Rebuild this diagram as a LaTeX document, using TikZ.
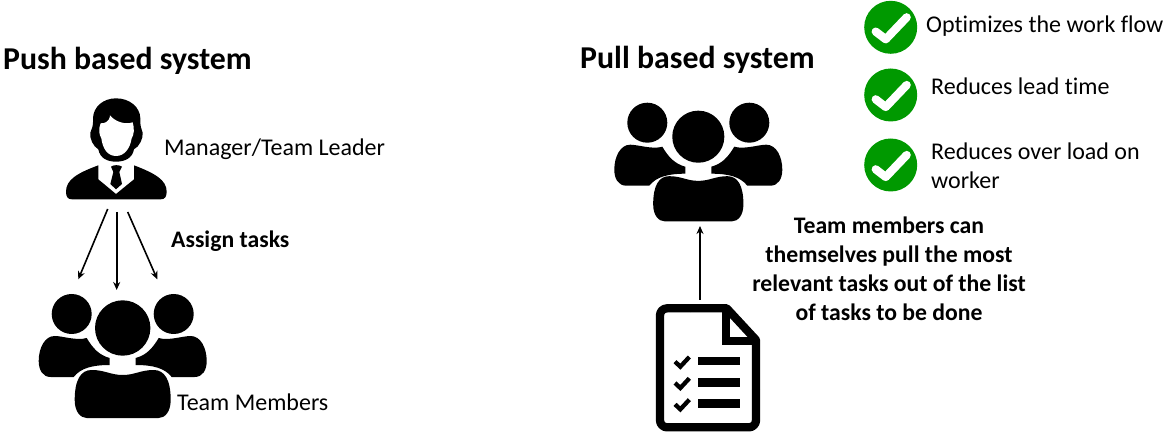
\documentclass[tikz,border=0pt]{standalone}
\usepackage{fontspec}
\setmainfont[Ligatures=NoCommon]{Carlito}
\usetikzlibrary{arrows.meta}

\tikzset{
  x=1pt, y=-1pt,
  label/.style={anchor=base west, inner sep=0pt, font=\fontsize{24}{29}\selectfont},
  heading/.style={anchor=base west, inner sep=0pt, font=\fontsize{31.8}{36}\selectfont\bfseries},
  boldtext/.style={inner sep=0pt, font=\fontsize{23.7}{29}\selectfont\bfseries},
  iconbox/.style={inner sep=0pt, outer sep=0pt},
  taskarrow/.style={-{Stealth[length=8pt,width=7pt]}, line width=1.6pt},
  pics/sidebody/.style={code={
    \fill (-51,-14) circle (20);
    \fill (-84,33) .. controls (-84,20) and (-78,8) .. (-68,8)
      .. controls (-60,8) and (-46,13) .. (-36,10)
      .. controls (-30,20) and (-24,27) .. (-13,30) -- (-13,37)
      .. controls (-30,37) and (-42,40) .. (-49,49) -- (-72,49)
      .. controls (-80,49) and (-84,42) .. (-84,33) -- cycle;
  }},
  pics/teamicon/.style={code={
    \fill (0,0) circle (27.7);
    \fill (-48,72) .. controls (-48,52) and (-42,42) .. (-31,42)
      .. controls (-18,42) and (-12,47) .. (0,47)
      .. controls (12,47) and (18,42) .. (31,42)
      .. controls (42,42) and (48,52) .. (48,72)
      .. controls (48,84) and (42,90) .. (36,90) -- (-36,90)
      .. controls (-42,90) and (-48,84) .. (-48,72) -- cycle;
    \pic {sidebody};
    \pic[xscale=-1] {sidebody};
  }},
  pics/manageicon/.style={code={
    % head
    \fill (258,215) .. controls (232,215) and (210,205) .. (205,178)
      .. controls (190,170) and (178,145) .. (181,128)
      .. controls (186,115) and (190,110) .. (189,85)
      .. controls (190,50) and (220,25) .. (258,25)
      .. controls (298,25) and (330,50) .. (331,85)
      .. controls (330,110) and (334,115) .. (338,128)
      .. controls (340,145) and (328,170) .. (312,178)
      .. controls (307,205) and (284,215) .. (258,215) -- cycle;
    \fill[white] (258,198) .. controls (232,198) and (218,175) .. (214,145)
      .. controls (208,135) and (204,118) .. (212,100)
      .. controls (240,100) and (240,78) .. (240,76)
      .. controls (255,95) and (285,105) .. (308,97)
      .. controls (314,115) and (312,135) .. (305,145)
      .. controls (300,175) and (284,198) .. (258,198) -- cycle;
    % shoulders
    \fill (108,305) .. controls (108,270) and (140,250) .. (205,226)
      -- (205,268) -- (258,312) -- (312,268) -- (312,226)
      .. controls (375,250) and (410,270) .. (410,305)
      .. controls (410,320) and (405,328) .. (392,328) -- (126,328)
      .. controls (113,328) and (108,320) .. (108,305) -- cycle;
    % tie
    \fill (243,230) .. controls (250,224) and (268,224) .. (276,230)
      -- (268,246) -- (276,282) -- (258,298) -- (241,282) -- (250,246) -- cycle;
  }},
  pics/listicon/.style={code={
    \draw[line width=8.3, line join=round, rounded corners=7] (240,655) -- (150,655) -- (150,1012) -- (438,1012) -- (438,900);
    \draw[line width=8.3, line join=round] (240,655) -- (350,655) -- (438,750) -- (438,900);
    \draw[line width=8.3, line join=miter] (348,655) -- (348,754) -- (438,754);
    \foreach \row in {0,64,128} {
      \fill (265,800+\row) rectangle (390,826+\row);
      \draw[line width=4.3] (195,815+\row) -- (211,830+\row) -- (238,801+\row);
    }
  }},
  pics/checkicon/.style={code={
    \fill[green!60!black] (0,0) circle (26.5);
    \draw[white, line width=8.2, line cap=round, line join=round] (-15,4.3) -- (-5,12) -- (16,-10);
  }}
}

\begin{document}
\begin{tikzpicture}

\useasboundingbox (0,0) rectangle (1164,435);

% push side
\node[heading] (pushtitle) at (3,70) {Push based system};
\node[iconbox, minimum width=101pt, minimum height=114pt] (manager) at (116.7,155) {};
\pic[scale=1/3] at (30,90) {manageicon};
\node[label] (managerlabel) at (164,156) {Manager/Team Leader};
\node[iconbox, minimum width=170pt, minimum height=130pt] (team) at (116.7,355) {};
\pic at (122.7,328) {teamicon};
\node[label] (teamlabel) at (177,410) {Team Members};
\node[boldtext, anchor=base west] (assign) at (171,248) {Assign tasks};

\coordinate (taskL) at (78.3,279.3);
\coordinate (taskR) at (157.3,279.3);
\draw[taskarrow] ([xshift=-9pt,yshift=3pt]manager.south) -- (taskL);
\draw[taskarrow] (manager.south) -- (team.north);
\draw[taskarrow] ([xshift=11pt]manager.south) -- (taskR);

% pull side
\node[heading] (pulltitle) at (580,69) {Pull based system};
\node[iconbox, minimum width=170pt, minimum height=136pt] (pullteam) at (700,158) {};
\pic[scale=.94] at (698.3,136.7) {teamicon};
\node[iconbox, minimum width=104pt, minimum height=135pt] (tasklist) at (700,367.5) {};
\pic[scale=1/3] at (610,90) {listicon};
\draw[taskarrow] (tasklist.north) -- (pullteam.south);

\node[boldtext, align=center, anchor=north] (pulltext) at (889,217) {Team members can\\themselves pull the most\\relevant tasks out of the list\\of tasks to be done};

% benefits
\pic at (890.7,27.3) {checkicon};
\pic at (890.7,95) {checkicon};
\pic at (890.7,165) {checkicon};
\node[label] (flowlabel) at (926,33) {Optimizes the work flow};
\node[label] (leadlabel) at (931,95) {Reduces lead time};
\node[label, align=left, anchor=north west] (loadlabel) at (931,143) {Reduces over load on\\worker};

\end{tikzpicture}
\end{document}
